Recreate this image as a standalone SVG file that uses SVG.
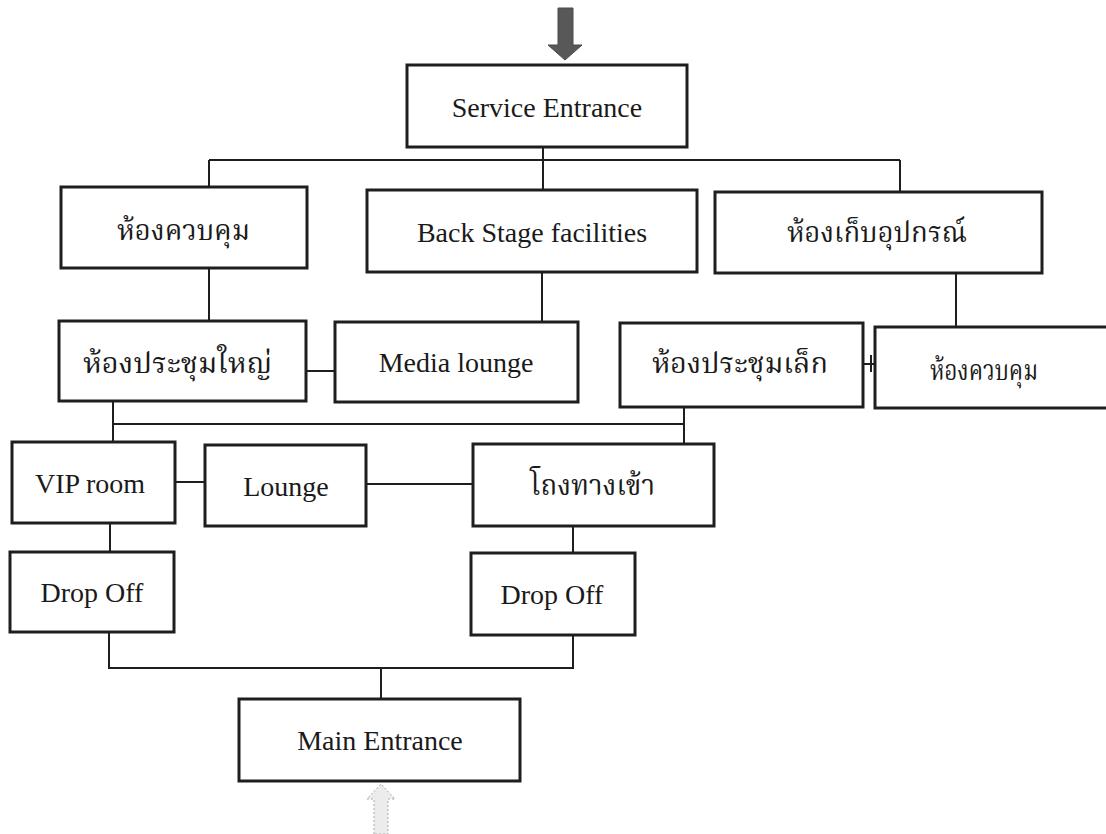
<svg xmlns="http://www.w3.org/2000/svg" width="1106" height="834" viewBox="0 0 1106 834">
  <style>
    .box { fill: #ffffff; stroke: #1e1e1e; stroke-width: 3; }
    .lbl { font-family: "Liberation Serif", "Times New Roman", serif; font-size: 28px; fill: #1a1a1a; text-anchor: middle; }
    .th { font-family: "Noto Serif Thai", "Noto Sans Thai", "Norasi", "Garuda", "Liberation Serif", serif; font-size: 29px; fill: #1a1a1a; }
    .wire { fill: none; stroke: #1e1e1e; stroke-width: 2; }
  </style>

  <rect x="0" y="0" width="1106" height="834" fill="#ffffff"/>

  <!-- entry arrows -->
  <g id="arrow-service">
    <polygon points="558,8 573,8 573,45 582,45 565,60 548,45 558,45" fill="#585858" stroke="#4a4a4a" stroke-width="1"/>
  </g>
  <g id="arrow-main">
    <polygon points="374,834 374,799 367,799 381,784 395,799 388,799 388,834" fill="#ececec" stroke="#a8a8a8" stroke-width="1" stroke-dasharray="2 2"/>
  </g>

  <!-- connectors -->
  <g id="connectors" class="wire">
    <path d="M543 147 V190"/>
    <path d="M209 160 H900"/>
    <path d="M209 160 V187"/>
    <path d="M900 160 V192"/>
    <path d="M209 268 V321"/>
    <path d="M542 272 V322"/>
    <path d="M956 273 V327"/>
    <path d="M306 371 H335"/>
    <path d="M863 364 H875"/>
    <path d="M871 355 V372"/>
    <path d="M113 401 V442"/>
    <path d="M113 424 H684"/>
    <path d="M684 405 V444"/>
    <path d="M175 482 H205"/>
    <path d="M366 484 H473"/>
    <path d="M110 523 V552"/>
    <path d="M573 526 V553"/>
    <path d="M109 632 V668 H573 V635"/>
    <path d="M381 668 V699"/>
  </g>

  <!-- nodes -->
  <g id="service-entrance">
    <rect class="box" x="407" y="65" width="280" height="82"/>
    <text class="lbl" x="547" y="117">Service Entrance</text>
  </g>

  <g id="control-room-left">
    <rect class="box" x="61" y="187" width="246" height="81"/>
    <text class="th" x="117" y="240" textLength="133" lengthAdjust="spacingAndGlyphs">ห้องควบคุม</text>
  </g>

  <g id="backstage">
    <rect class="box" x="367" y="190" width="330" height="82"/>
    <text class="lbl" x="532" y="242">Back Stage facilities</text>
  </g>

  <g id="storage">
    <rect class="box" x="715" y="192" width="327" height="81"/>
    <text class="th" x="787" y="242" textLength="180" lengthAdjust="spacingAndGlyphs">ห้องเก็บอุปกรณ์</text>
  </g>

  <g id="large-meeting">
    <rect class="box" x="59" y="321" width="247" height="80"/>
    <text class="th" x="83" y="373" textLength="189" lengthAdjust="spacingAndGlyphs">ห้องประชุมใหญ่</text>
  </g>

  <g id="media-lounge">
    <rect class="box" x="335" y="322" width="243" height="80"/>
    <text class="lbl" x="456" y="372">Media lounge</text>
  </g>

  <g id="small-meeting">
    <rect class="box" x="620" y="323" width="243" height="84"/>
    <text class="th" x="652" y="373" textLength="176" lengthAdjust="spacingAndGlyphs">ห้องประชุมเล็ก</text>
  </g>

  <g id="control-room-right">
    <rect class="box" x="875" y="327" width="240" height="81"/>
    <text class="th" x="930" y="380" textLength="108" lengthAdjust="spacingAndGlyphs">ห้องควบคุม</text>
  </g>

  <g id="vip-room">
    <rect class="box" x="12" y="442" width="163" height="81"/>
    <text class="lbl" x="90" y="493">VIP room</text>
  </g>

  <g id="lounge">
    <rect class="box" x="205" y="445" width="161" height="81"/>
    <text class="lbl" x="286" y="496">Lounge</text>
  </g>

  <g id="entrance-hall">
    <rect class="box" x="473" y="444" width="241" height="82"/>
    <text class="th" x="530" y="495" textLength="125" lengthAdjust="spacingAndGlyphs">โถงทางเข้า</text>
  </g>

  <g id="drop-off-left">
    <rect class="box" x="10" y="552" width="164" height="80"/>
    <text class="lbl" x="92" y="602">Drop Off</text>
  </g>

  <g id="drop-off-right">
    <rect class="box" x="471" y="553" width="164" height="82"/>
    <text class="lbl" x="552" y="604">Drop Off</text>
  </g>

  <g id="main-entrance">
    <rect class="box" x="239" y="699" width="281" height="82"/>
    <text class="lbl" x="380" y="750">Main Entrance</text>
  </g>
</svg>
